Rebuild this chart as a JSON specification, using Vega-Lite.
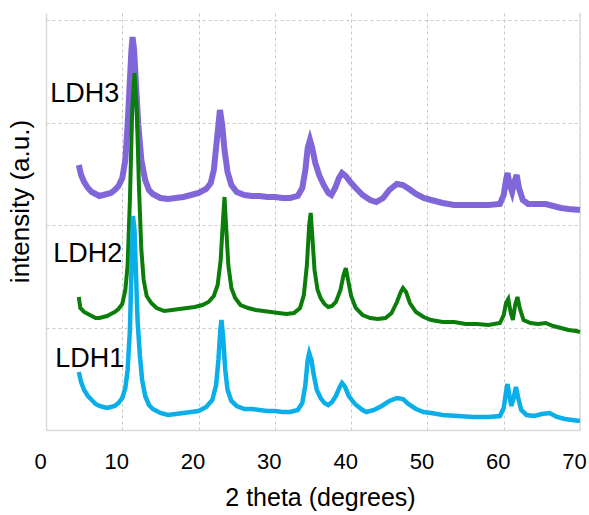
{
  "$schema": "https://vega.github.io/schema/vega-lite/v6.json",
  "width": 534,
  "height": 417,
  "autosize": {"type": "none"},
  "padding": {"left": 46, "top": 13, "right": 9, "bottom": 85},
  "background": "white",
  "config": {
    "view": {"stroke": null},
    "font": "Liberation Sans",
    "axis": {"labelFont": "Liberation Sans", "titleFont": "Liberation Sans", "labelColor": "black", "titleColor": "black", "titleFontWeight": "normal"}
  },
  "datasets": {
    "ldh1": [
      {"theta":4.3,"intensity":58},{"theta":4.6,"intensity":48},{"theta":5.0,"intensity":40},{"theta":5.5,"intensity":34},{"theta":6.0,"intensity":30},{"theta":6.5,"intensity":26},{"theta":7.0,"intensity":24},{"theta":7.5,"intensity":23},{"theta":8.0,"intensity":22},{"theta":8.5,"intensity":23},{"theta":9.0,"intensity":24},{"theta":9.5,"intensity":27},{"theta":10.0,"intensity":32},{"theta":10.4,"intensity":42},{"theta":10.7,"intensity":60},{"theta":11.0,"intensity":100},{"theta":11.2,"intensity":160},{"theta":11.4,"intensity":214},{"theta":11.6,"intensity":200},{"theta":11.8,"intensity":155},{"theta":12.0,"intensity":110},{"theta":12.3,"intensity":75},{"theta":12.6,"intensity":50},{"theta":13.0,"intensity":34},{"theta":13.5,"intensity":25},{"theta":14.0,"intensity":21},{"theta":15,"intensity":17},{"theta":16,"intensity":15},{"theta":17,"intensity":16},{"theta":18,"intensity":17},{"theta":19,"intensity":18},{"theta":20,"intensity":19},{"theta":21,"intensity":23},{"theta":21.8,"intensity":30},{"theta":22.3,"intensity":45},{"theta":22.6,"intensity":70},{"theta":22.85,"intensity":100},{"theta":23.0,"intensity":110},{"theta":23.2,"intensity":95},{"theta":23.5,"intensity":60},{"theta":23.8,"intensity":40},{"theta":24.3,"intensity":29},{"theta":25,"intensity":24},{"theta":26,"intensity":21},{"theta":27,"intensity":21},{"theta":28,"intensity":20},{"theta":29,"intensity":19},{"theta":30,"intensity":19},{"theta":31,"intensity":18},{"theta":32,"intensity":18},{"theta":33,"intensity":20},{"theta":33.6,"intensity":27},{"theta":34.0,"intensity":45},{"theta":34.3,"intensity":70},{"theta":34.5,"intensity":77},{"theta":34.8,"intensity":70},{"theta":35.1,"intensity":55},{"theta":35.5,"intensity":40},{"theta":36,"intensity":32},{"theta":36.5,"intensity":27},{"theta":37.0,"intensity":25},{"theta":37.5,"intensity":28},{"theta":38.0,"intensity":34},{"theta":38.5,"intensity":43},{"theta":38.8,"intensity":47},{"theta":39.2,"intensity":43},{"theta":39.7,"intensity":34},{"theta":40.5,"intensity":26},{"theta":41.5,"intensity":20},{"theta":42.0,"intensity":18},{"theta":43,"intensity":20},{"theta":44,"intensity":24},{"theta":45,"intensity":29},{"theta":46,"intensity":32},{"theta":46.8,"intensity":31},{"theta":47.5,"intensity":26},{"theta":48.5,"intensity":21},{"theta":49.5,"intensity":18},{"theta":50.5,"intensity":17},{"theta":52,"intensity":15},{"theta":54,"intensity":14},{"theta":56,"intensity":13},{"theta":58,"intensity":13},{"theta":59.5,"intensity":14},{"theta":60.0,"intensity":22},{"theta":60.3,"intensity":38},{"theta":60.5,"intensity":46},{"theta":60.8,"intensity":32},{"theta":61.0,"intensity":24},{"theta":61.3,"intensity":32},{"theta":61.6,"intensity":43},{"theta":61.9,"intensity":32},{"theta":62.3,"intensity":20},{"theta":63,"intensity":15},{"theta":64,"intensity":14},{"theta":65,"intensity":16},{"theta":66,"intensity":17},{"theta":67,"intensity":13},{"theta":68,"intensity":11},{"theta":69,"intensity":10},{"theta":70,"intensity":9}
    ],
    "ldh2": [
      {"theta":4.3,"intensity":133},{"theta":4.5,"intensity":122},{"theta":5.0,"intensity":118},{"theta":5.5,"intensity":116},{"theta":6.0,"intensity":114},{"theta":6.5,"intensity":112},{"theta":7.0,"intensity":112},{"theta":7.5,"intensity":113},{"theta":8.0,"intensity":114},{"theta":8.5,"intensity":116},{"theta":9.0,"intensity":118},{"theta":9.5,"intensity":121},{"theta":10.0,"intensity":126},{"theta":10.4,"intensity":140},{"theta":10.7,"intensity":165},{"theta":11.0,"intensity":230},{"theta":11.3,"intensity":320},{"theta":11.6,"intensity":357},{"theta":11.9,"intensity":320},{"theta":12.2,"intensity":240},{"theta":12.5,"intensity":180},{"theta":12.8,"intensity":150},{"theta":13.2,"intensity":134},{"theta":13.8,"intensity":127},{"theta":14.5,"intensity":122},{"theta":15.5,"intensity":119},{"theta":16.5,"intensity":120},{"theta":17.5,"intensity":121},{"theta":18.5,"intensity":122},{"theta":19.5,"intensity":123},{"theta":20.5,"intensity":125},{"theta":21.3,"intensity":128},{"theta":22.0,"intensity":134},{"theta":22.5,"intensity":145},{"theta":22.9,"intensity":170},{"theta":23.2,"intensity":210},{"theta":23.4,"intensity":233},{"theta":23.6,"intensity":205},{"theta":23.9,"intensity":165},{"theta":24.3,"intensity":142},{"theta":24.8,"intensity":132},{"theta":25.5,"intensity":125},{"theta":26.5,"intensity":122},{"theta":27.5,"intensity":120},{"theta":28.5,"intensity":119},{"theta":29.5,"intensity":118},{"theta":30.5,"intensity":117},{"theta":31.5,"intensity":116},{"theta":32.5,"intensity":117},{"theta":33.3,"intensity":122},{"theta":33.8,"intensity":135},{"theta":34.2,"intensity":165},{"theta":34.5,"intensity":205},{"theta":34.7,"intensity":217},{"theta":34.9,"intensity":195},{"theta":35.2,"intensity":160},{"theta":35.6,"intensity":140},{"theta":36.0,"intensity":132},{"theta":36.5,"intensity":126},{"theta":37.0,"intensity":123},{"theta":37.5,"intensity":124},{"theta":38.0,"intensity":128},{"theta":38.6,"intensity":140},{"theta":39.0,"intensity":155},{"theta":39.3,"intensity":162},{"theta":39.6,"intensity":150},{"theta":40.0,"intensity":134},{"theta":40.6,"intensity":122},{"theta":41.5,"intensity":115},{"theta":42.5,"intensity":112},{"theta":43.5,"intensity":111},{"theta":44.5,"intensity":112},{"theta":45.3,"intensity":117},{"theta":46.0,"intensity":128},{"theta":46.5,"intensity":138},{"theta":46.8,"intensity":142},{"theta":47.2,"intensity":138},{"theta":47.7,"intensity":127},{"theta":48.5,"intensity":118},{"theta":49.5,"intensity":113},{"theta":50.5,"intensity":110},{"theta":52,"intensity":108},{"theta":53.5,"intensity":108},{"theta":55,"intensity":106},{"theta":56.5,"intensity":106},{"theta":58,"intensity":105},{"theta":59.5,"intensity":107},{"theta":60.0,"intensity":115},{"theta":60.3,"intensity":127},{"theta":60.6,"intensity":131},{"theta":60.9,"intensity":118},{"theta":61.2,"intensity":110},{"theta":61.5,"intensity":125},{"theta":61.8,"intensity":133},{"theta":62.1,"intensity":122},{"theta":62.6,"intensity":110},{"theta":63.5,"intensity":107},{"theta":64.5,"intensity":106},{"theta":65.5,"intensity":107},{"theta":66.5,"intensity":104},{"theta":67.5,"intensity":102},{"theta":68.5,"intensity":100},{"theta":69.5,"intensity":99},{"theta":70,"intensity":98}
    ],
    "ldh3": [
      {"theta":4.3,"intensity":265},{"theta":4.6,"intensity":255},{"theta":5.0,"intensity":248},{"theta":5.5,"intensity":242},{"theta":6.0,"intensity":238},{"theta":6.5,"intensity":236},{"theta":7.0,"intensity":234},{"theta":7.5,"intensity":235},{"theta":8.0,"intensity":236},{"theta":8.5,"intensity":237},{"theta":9.0,"intensity":240},{"theta":9.5,"intensity":244},{"theta":10.0,"intensity":252},{"theta":10.4,"intensity":270},{"theta":10.7,"intensity":305},{"theta":11.0,"intensity":350},{"theta":11.2,"intensity":380},{"theta":11.35,"intensity":393},{"theta":11.55,"intensity":380},{"theta":11.8,"intensity":345},{"theta":12.1,"intensity":305},{"theta":12.5,"intensity":270},{"theta":13.0,"intensity":250},{"theta":13.5,"intensity":240},{"theta":14.0,"intensity":236},{"theta":15,"intensity":232},{"theta":16,"intensity":231},{"theta":17,"intensity":232},{"theta":18,"intensity":233},{"theta":19,"intensity":235},{"theta":20,"intensity":237},{"theta":21,"intensity":241},{"theta":21.6,"intensity":247},{"theta":22.0,"intensity":260},{"theta":22.4,"intensity":290},{"theta":22.8,"intensity":320},{"theta":23.1,"intensity":305},{"theta":23.4,"intensity":280},{"theta":23.8,"intensity":258},{"theta":24.3,"intensity":245},{"theta":25,"intensity":238},{"theta":26,"intensity":235},{"theta":27,"intensity":234},{"theta":28,"intensity":234},{"theta":29,"intensity":233},{"theta":30,"intensity":233},{"theta":31,"intensity":232},{"theta":32,"intensity":232},{"theta":33,"intensity":234},{"theta":33.6,"intensity":242},{"theta":34.0,"intensity":260},{"theta":34.3,"intensity":282},{"theta":34.6,"intensity":290},{"theta":34.9,"intensity":282},{"theta":35.3,"intensity":267},{"theta":35.8,"intensity":255},{"theta":36.4,"intensity":245},{"theta":37.0,"intensity":237},{"theta":37.4,"intensity":235},{"theta":37.9,"intensity":242},{"theta":38.4,"intensity":252},{"theta":38.8,"intensity":257},{"theta":39.3,"intensity":254},{"theta":39.9,"intensity":248},{"theta":40.6,"intensity":242},{"theta":41.5,"intensity":235},{"theta":42.5,"intensity":230},{"theta":43.3,"intensity":228},{"theta":44.2,"intensity":232},{"theta":45.0,"intensity":240},{"theta":46.0,"intensity":246},{"theta":46.8,"intensity":245},{"theta":47.6,"intensity":241},{"theta":48.5,"intensity":236},{"theta":49.5,"intensity":232},{"theta":50.5,"intensity":230},{"theta":52,"intensity":227},{"theta":53.5,"intensity":225},{"theta":55,"intensity":225},{"theta":56.5,"intensity":225},{"theta":58,"intensity":225},{"theta":59.5,"intensity":226},{"theta":60.0,"intensity":235},{"theta":60.3,"intensity":250},{"theta":60.5,"intensity":257},{"theta":60.8,"intensity":245},{"theta":61.1,"intensity":238},{"theta":61.4,"intensity":248},{"theta":61.7,"intensity":255},{"theta":62.0,"intensity":242},{"theta":62.5,"intensity":230},{"theta":63.2,"intensity":226},{"theta":64.5,"intensity":226},{"theta":65.5,"intensity":226},{"theta":66.5,"intensity":224},{"theta":67.5,"intensity":222},{"theta":68.5,"intensity":221},{"theta":70,"intensity":220}
    ],
    "labels": [
      {"theta":0.55,"intensity":328,"name":"LDH3"},
      {"theta":0.95,"intensity":168,"name":"LDH2"},
      {"theta":1.2,"intensity":63,"name":"LDH1"}
    ]
  },
  "encoding": {
    "x": {"field": "theta", "type": "quantitative", "scale": {"domain": [0, 70], "nice": false, "zero": false},
      "axis": {"title": "2 theta (degrees)", "values": [0,10,20,30,40,50,60,70], "ticks": false, "labelFontSize": 22, "labelPadding": 21, "labelOffset": -6, "titleFontSize": 25, "titlePadding": 13, "titleX": 274, "grid": true, "gridColor": "#c8c8c8", "gridDash": [3,3], "gridWidth": 1, "domainColor": "#d9d9d9", "domainWidth": 1.5, "labelFlush": false}},
    "y": {"field": "intensity", "type": "quantitative", "scale": {"domain": [0, 417], "nice": false, "zero": false},
      "axis": {"title": "intensity (a.u.)", "values": [102.5, 205, 307.5, 410], "labels": false, "ticks": false, "titleFontSize": 26, "titlePadding": 13, "titleY": 188, "grid": true, "gridColor": "#c8c8c8", "gridDash": [3,3], "gridWidth": 1, "domainColor": "#d9d9d9", "domainWidth": 1.5}}
  },
  "layer": [
    {"data": {"values": [{"theta": 70}]}, "mark": {"type": "rule", "color": "#dcdcdc", "strokeWidth": 1.5}, "encoding": {"x": {"field": "theta", "type": "quantitative"}, "y": {"value": 0}, "y2": {"value": 417}}},
    {"data": {"name": "ldh3"}, "mark": {"type": "line", "color": "#8066d9", "strokeWidth": 6, "interpolate": "linear"}},
    {"data": {"name": "ldh2"}, "mark": {"type": "line", "color": "#0a7d0a", "strokeWidth": 4, "interpolate": "linear"}},
    {"data": {"name": "ldh1"}, "mark": {"type": "line", "color": "#0aafea", "strokeWidth": 4.5, "interpolate": "linear"}},
    {"data": {"name": "labels"}, "mark": {"type": "text", "align": "left", "baseline": "alphabetic", "fontSize": 27, "font": "Liberation Sans", "color": "black"}, "encoding": {"text": {"field": "name"}}}
  ]
}
